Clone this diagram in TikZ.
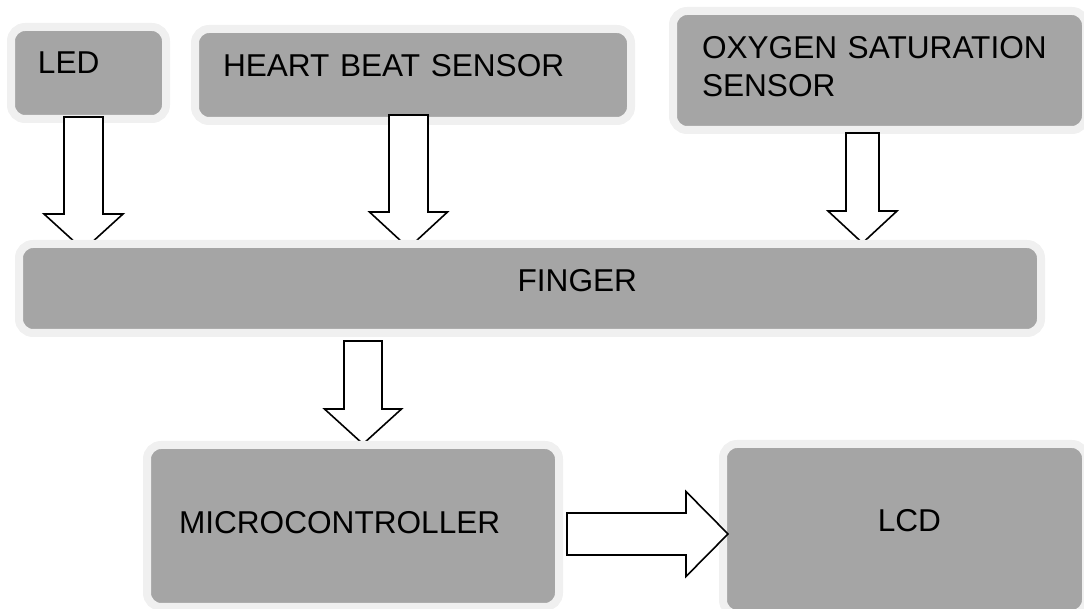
\documentclass[tikz,border=0pt]{standalone}
\usepackage{fontspec}
\setmainfont{Liberation Sans}
\usepackage{xcolor}
\usepackage{tikz}
\usetikzlibrary{calc}
\definecolor{boxgray}{HTML}{A5A5A5}
\definecolor{halo}{HTML}{F0F0F0}
\pgfdeclarelayer{front}
\pgfsetlayers{main,front}
\tikzset{
  box/.style={rectangle,draw=halo,line width=4pt,fill=boxgray,rounded corners=7pt,
    align=left,inner ysep=0pt,font=\fontsize{15.8}{19}\selectfont},
  fat/.style={draw=black,fill=white,line width=0.8pt,line join=miter},
}
\begin{document}
\begin{tikzpicture}[x=0.5pt,y=-0.5pt]
  \clip (0,0) rectangle (1084,609);
  \useasboundingbox (0,0) rectangle (1084,609);
  \node[box,inner xsep=13.5pt,text width=50.5pt,text height=23.5pt,text depth=22.5pt] (led) at (88.5,73) {LED};
  \node[box,inner xsep=14pt,text width=190pt,text height=24pt,text depth=22pt] (heart) at (413,75) {HEART BEAT SENSOR};
  \node[box,inner xsep=14.5pt,text width=177.5pt,text height=24pt,text depth=35.5pt] (oxy) at (879.5,70.5) {OXYGEN SATURATION\\SENSOR};
  \begin{pgfonlayer}{front}
    \node[box,align=right,inner xsep=202pt,text width=107pt,text height=24pt,text depth=20.5pt] (finger) at (530,288.5) {FINGER};
    \node[box,inner xsep=16pt,text width=174pt,text height=44.5pt,text depth=36.5pt] (micro) at (353,526) {MICROCONTROLLER};
    \node[box,align=right,inner xsep=72.5pt,text width=36.5pt,text height=44pt,text depth=41pt] (lcd) at (904.5,529) {LCD};
  \end{pgfonlayer}
  % sensors into the finger
  \draw[fat] let \p1=($(led.south)+(-5,-6)$), \p2=($(finger.north -| led.south)+(-5,10)$) in
    (\x1-9.75pt,\y1) -- (\x1+9.75pt,\y1) -- (\x1+9.75pt,\y2+18pt) -- (\x1+19.75pt,\y2+18pt)
    -- (\x2,\y2) -- (\x1-19.75pt,\y2+18pt) -- (\x1-9.75pt,\y2+18pt) -- cycle;
  \draw[fat] let \p1=($(heart.south)+(-4.5,-10)$), \p2=($(finger.north -| heart.south)+(-4.5,8)$) in
    (\x1-9.75pt,\y1) -- (\x1+9.75pt,\y1) -- (\x1+9.75pt,\y2+18pt) -- (\x1+19.5pt,\y2+18pt)
    -- (\x2,\y2) -- (\x1-19.5pt,\y2+18pt) -- (\x1-9.75pt,\y2+18pt) -- cycle;
  \draw[fat] let \p1=($(oxy.south)+(-17,-1)$), \p2=($(finger.north -| oxy.south)+(-17,3)$) in
    (\x1-8.25pt,\y1) -- (\x1+8.25pt,\y1) -- (\x1+8.25pt,\y2+16pt) -- (\x1+17.25pt,\y2+16pt)
    -- (\x2,\y2) -- (\x1-17.25pt,\y2+16pt) -- (\x1-8.25pt,\y2+16pt) -- cycle;
  % finger to microcontroller
  \draw[fat] let \p1=($(finger.south -| micro.north)+(10,4)$), \p2=($(micro.north)+(10,3)$) in
    (\x1-9.5pt,\y1) -- (\x1+9.5pt,\y1) -- (\x1+9.5pt,\y2+17.5pt) -- (\x1+19.25pt,\y2+17.5pt)
    -- (\x2,\y2) -- (\x1-19.25pt,\y2+17.5pt) -- (\x1-9.5pt,\y2+17.5pt) -- cycle;
  \begin{pgfonlayer}{front}
    \draw[fat] let \p1=($(micro.east)+(4,8)$), \p2=($(lcd.west |- micro.east)+(9,8)$) in
      (\x1,\y1+10.5pt) -- (\x2-21pt,\y1+10.5pt) -- (\x2-21pt,\y1+21.25pt) -- (\x2,\y2)
      -- (\x2-21pt,\y1-21.25pt) -- (\x2-21pt,\y1-10.5pt) -- (\x1,\y1-10.5pt) -- cycle;
  \end{pgfonlayer}
\end{tikzpicture}
\end{document}
